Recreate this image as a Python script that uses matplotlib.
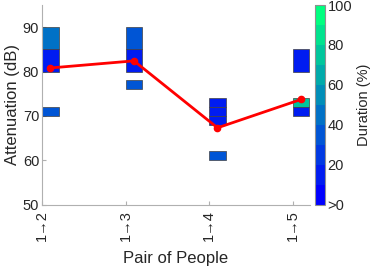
import numpy as np
import matplotlib
matplotlib.use('Agg')
import matplotlib.pyplot as plt
from matplotlib.patches import Rectangle
from matplotlib.colors import Normalize

plt.rcParams['font.family'] = ['Liberation Sans', 'DejaVu Sans']

# datos ------------------------------------------------------------------
pares = ['1\u21922', '1\u21923', '1\u21924', '1\u21925']
atenuacion_media = [80.8, 82.4, 67.3, 73.7]

# rectangulos por par: (grupo, inferior, superior, duracion %)
grupo = [0, 0, 0, 1, 1, 1, 2, 2, 2, 2, 3, 3, 3]
inferior = [85, 80, 70, 85, 80, 76, 72, 70, 68, 60, 80, 72, 70]
superior = [90, 85, 72, 90, 85, 78, 74, 72, 70, 62, 85, 74, 72]
duracion = [45, 15, 35, 35, 15, 35, 15, 15, 15, 35, 15, 75, 15]

cb_ticks = [0, 20, 40, 60, 80, 100]
cb_labels = ['>0', '20', '40', '60', '80', '100']

ancho = 0.2
gris = '#262626'

fig = plt.figure(figsize=(3.74, 2.66), dpi=100)
ax = fig.add_axes([0.1123, 0.2312, 0.7166, 0.75])
cax = fig.add_axes([0.8422, 0.2312, 0.0267, 0.75])

cmap = plt.get_cmap('winter', 10)
norm = Normalize(0, 100)

for g, lo, hi, d in zip(grupo, inferior, superior, duracion):
    ax.add_patch(Rectangle((g + 1, lo), ancho, hi - lo,
                           facecolor=cmap(norm(d)), edgecolor='#404040',
                           linewidth=0.5, zorder=2))

xs = np.arange(1, len(pares) + 1) + ancho / 2
ax.plot(xs, atenuacion_media, color='red', linewidth=2, marker='o',
        markersize=4.5, zorder=3)

ax.set_xlim(1, 4.207)
ax.set_ylim(50, 95)
ax.set_xticks(np.arange(1, len(pares) + 1))
ax.set_xticklabels(pares, rotation=90)
ax.set_yticks([50, 60, 70, 80, 90])
ax.tick_params(direction='in', length=3, labelsize=10.5, colors='#b0b0b0',
               labelcolor=gris, pad=2)
ax.tick_params(axis='x', pad=4)
for s in ['top', 'right']:
    ax.spines[s].set_visible(False)
for s in ['left', 'bottom']:
    ax.spines[s].set_color('#b0b0b0')
ax.set_xlabel('Pair of People', fontsize=12, color=gris, labelpad=7)
ax.set_ylabel('Attenuation (dB)', fontsize=12, color=gris, labelpad=2)

sm = plt.cm.ScalarMappable(cmap=cmap, norm=norm)
cb = fig.colorbar(sm, cax=cax, ticks=cb_ticks)
cb.ax.set_yticklabels(cb_labels)
cb.ax.tick_params(labelsize=10.5, length=0, labelcolor=gris, pad=2)
cb.outline.set_edgecolor('#909090')
cb.set_label('Duration (%)', fontsize=10.5, color=gris, labelpad=3)

fig.savefig('out.png', dpi=100)
